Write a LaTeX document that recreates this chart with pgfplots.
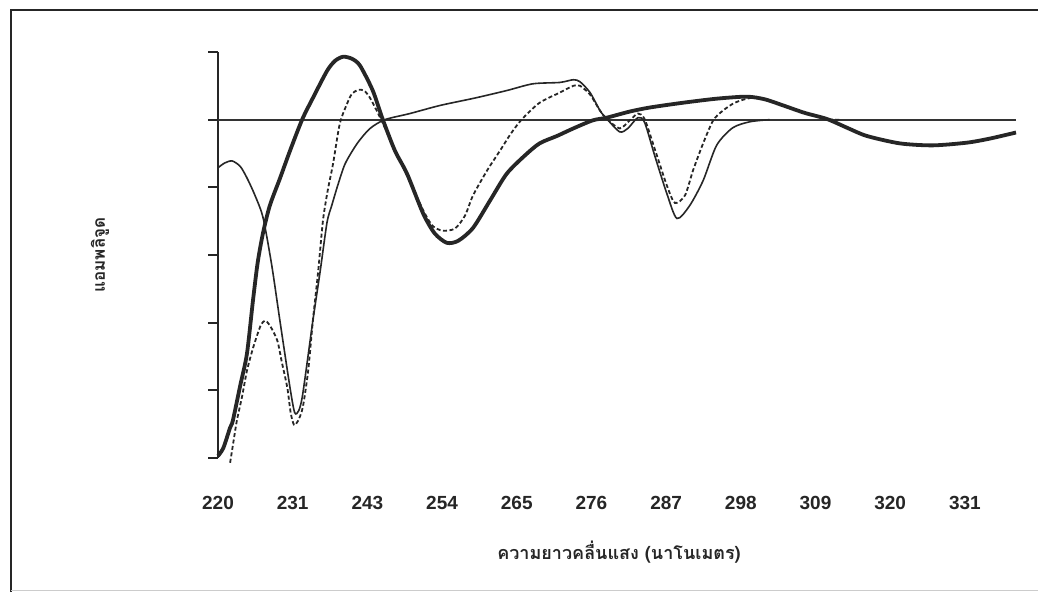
\documentclass[border=0pt]{standalone}
\usepackage{pgfplots}
\pgfplotsset{compat=1.18}
\usepackage{fontspec}
\setmainfont{Liberation Sans}
\newfontfamily\thaifont[Script=Thai]{Loma}

\begin{document}
\begin{tikzpicture}[x=1pt,y=1pt]
\useasboundingbox (0,0) rectangle (1038,592);
\fill[white] (0,0) rectangle (1038,592);
% page frame
\draw[line width=2.5pt,black!85] (11,0) -- (11,582) -- (1038,582);
\draw[line width=1pt,black!20] (11,2) -- (1038,2);

\begin{axis}[
  at={(218pt,134pt)}, anchor=south west, scale only axis,
  width=798pt, height=406pt,
  xmin=220, xmax=338.6, ymin=-5, ymax=1,
  clip=false,
  separate axis lines,
  axis x line*=bottom, x axis line style={draw=none},
  axis y line*=left, y axis line style={line width=2.4pt,black!85,-},
  xtick={220,231.1,242.2,253.3,264.4,275.5,286.6,297.7,308.8,319.9,331},
  xticklabels={220,231,243,254,265,276,287,298,309,320,331},
  xtick style={draw=none},
  xticklabel style={font=\bfseries\fontsize{19}{22}\selectfont, text=black!85, yshift=-25pt},
  ytick={-5,-4,-3,-2,-1,0,1}, yticklabels={},
  ytick style={line width=2pt,black!85},
  tick align=outside, major tick length=10pt,
]
% zero line
\addplot[line width=1.8pt,black!80] coordinates {(220,0) (338.6,0)};

% thick curve
\addplot[line width=3.8pt,black!85,smooth,tension=0.45] coordinates {
(220.0,-4.97) (220.8,-4.85) (221.8,-4.55) (222.2,-4.45) (223.3,-3.93) (224.3,-3.46)
(225.2,-2.67) (225.9,-2.11) (226.7,-1.67) (227.7,-1.27) (229.2,-0.87) (230.7,-0.46)
(232.5,0.00) (234.1,0.32) (236.2,0.72) (237.4,0.87) (238.6,0.93) (239.9,0.90)
(241.1,0.80) (243.0,0.43) (244.5,0.00) (246.3,-0.46) (248.1,-0.80) (250.5,-1.39)
(252.2,-1.68) (254.0,-1.82) (255.7,-1.79) (257.9,-1.60) (260.4,-1.20) (262.9,-0.80)
(265.6,-0.53) (267.8,-0.35) (270.4,-0.24) (272.8,-0.13) (275.7,-0.01) (277.8,0.03)
(281.2,0.12) (284.2,0.18) (289.1,0.25) (294.1,0.31) (298.6,0.34) (301.3,0.30)
(304.0,0.21) (307.2,0.10) (310.5,0.01) (313.5,-0.12) (316.4,-0.24) (321.3,-0.35)
(326.2,-0.38) (331.3,-0.34) (334.7,-0.28) (338.6,-0.19)
};

% thin solid curve
\addplot[line width=1.6pt,black!85,smooth,tension=0.45] coordinates {
(220.0,-0.71) (221.0,-0.64) (222.1,-0.61) (223.3,-0.69) (224.3,-0.86) (225.5,-1.12)
(226.7,-1.45) (228.0,-2.16) (229.2,-2.97) (230.7,-3.96) (231.4,-4.33) (232.0,-4.30)
(232.6,-4.05) (234.1,-2.97) (235.2,-2.23) (236.2,-1.52) (236.9,-1.27) (237.8,-0.97)
(238.9,-0.65) (240.7,-0.35) (242.6,-0.13) (244.8,0.00) (248.5,0.09) (253.0,0.21)
(258.2,0.32) (262.9,0.43) (266.8,0.53) (270.8,0.55) (272.8,0.59) (273.8,0.56)
(275.3,0.40) (276.8,0.13) (277.8,0.01) (279.7,-0.18) (280.9,-0.13) (282.4,0.03)
(283.4,-0.04) (284.9,-0.53) (286.7,-1.09) (288.2,-1.46) (290.1,-1.27) (292.1,-0.90)
(294.1,-0.38) (296.5,-0.12) (299.1,-0.03) (302.0,0.00)
};

% thin dashed curve
\addplot[line width=1.8pt,black!85,dash pattern=on 4pt off 2.5pt,smooth,tension=0.45] coordinates {
(221.8,-5.07) (222.2,-4.82) (222.8,-4.45) (223.6,-4.08) (224.3,-3.71) (225.1,-3.41)
(225.8,-3.19) (226.4,-3.03) (227.0,-2.97) (227.7,-3.04) (228.8,-3.26) (229.5,-3.59)
(230.3,-3.96) (230.8,-4.33) (231.3,-4.51) (231.9,-4.45) (232.6,-4.25) (233.4,-3.71)
(234.1,-2.97) (234.9,-2.23) (235.6,-1.49) (236.3,-1.05) (237.1,-0.65) (238.1,-0.06)
(239.2,0.24) (239.9,0.38) (240.8,0.44) (241.7,0.43) (242.6,0.32) (244.1,0.03)
(246.0,-0.38) (248.1,-0.83) (250.5,-1.34) (251.9,-1.57) (253.4,-1.64) (255.2,-1.61)
(256.7,-1.42) (257.9,-1.12) (260.0,-0.75) (261.9,-0.46) (263.5,-0.21) (265.2,0.01)
(267.8,0.25) (270.8,0.40) (272.8,0.50) (273.8,0.50) (275.3,0.37) (276.8,0.13)
(277.8,0.01) (279.7,-0.13) (281.2,-0.01) (282.4,0.09) (283.4,0.01) (284.9,-0.43)
(286.7,-0.97) (287.9,-1.23) (289.4,-1.12) (290.6,-0.75) (292.1,-0.35) (293.6,-0.01)
(295.0,0.13) (296.8,0.25) (299.1,0.32) (301.3,0.30) (304.0,0.21) (307.2,0.10)
(310.5,0.01) (312.4,0.00)
};
\end{axis}

% axis titles
\node[rotate=90,font=\thaifont\bfseries\fontsize{17}{20}\selectfont,text=black!85] at (100,337) {แอมพลิจูด};
\node[font=\thaifont\bfseries\fontsize{18}{21}\selectfont,text=black!85] at (619,40) {ความยาวคลื่นแสง (นาโนเมตร)};
\end{tikzpicture}
\end{document}
